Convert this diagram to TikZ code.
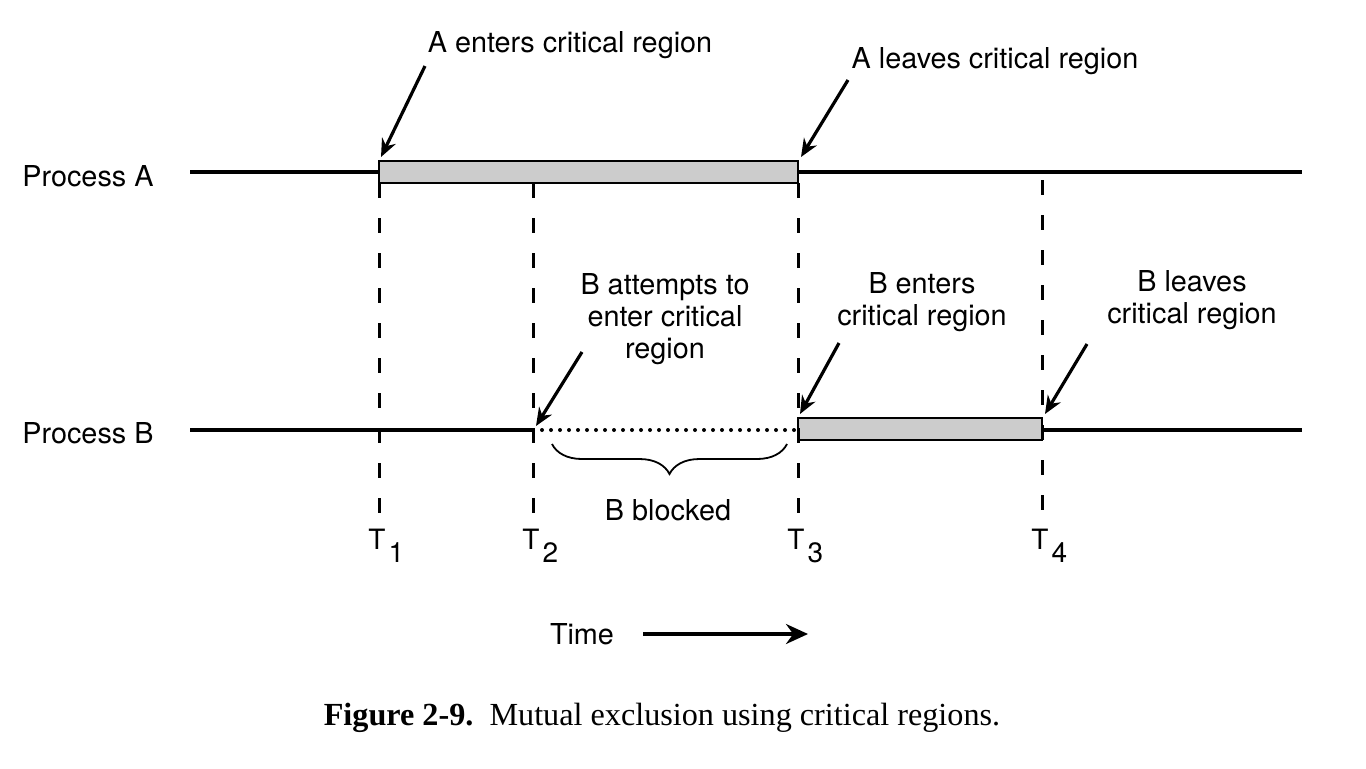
\documentclass[tikz,border=0pt]{standalone}
\usepackage{fontspec}
\setmainfont{TeX Gyre Heros}
\newfontfamily\capfont{Liberation Serif}
\usetikzlibrary{arrows.meta, decorations.pathreplacing}
\tikzset{
	tline/.style   ={line width=1.6pt},
	csbar/.style   ={draw=black, line width=1.3pt, fill=black!20},
	guide/.style   ={line width=1.5pt, dash pattern=on 7.5pt off 10pt},
	waitline/.style={line width=2pt, line cap=round, dash pattern=on 0pt off 4.5pt},
	callout/.style ={-{Stealth[length=9pt, width=7.5pt]}, line width=1.6pt},
	timearrow/.style={-{Stealth[length=11pt, width=10pt]}, line width=1.6pt},
	lbl/.style     ={font=\fontsize{14.4}{16}\selectfont, align=center, inner sep=0pt},
	tick/.style    ={font=\fontsize{14}{16}\selectfont, inner sep=0pt, anchor=base west},
}

\begin{document}
\begin{tikzpicture}[x=0.5pt, y=-0.5pt]
	\useasboundingbox (0,0) rectangle (1366,768);
	% process A
	\node[lbl, anchor=west] (procA) at (22,176) {Process A};
	\coordinate (aStart) at (190,172);
	\coordinate (aEnd) at (1302,172);
	\draw[tline] (aStart) -- (379,172);
	\draw[tline] (798,172) -- (aEnd);
	\draw[csbar] (379,161) rectangle (798,183);
	% process B
	\node[lbl, anchor=west] (procB) at (22,433) {Process B};
	\coordinate (bStart) at (190,430);
	\coordinate (bTry) at (533,430);
	\coordinate (bIn) at (798,430);
	\coordinate (bEnd) at (1302,430);
	\draw[tline] (bStart) -- (bTry);
	\draw[waitline] (bTry) -- (bIn);
	\draw[tline] (1042,430) -- (bEnd);
	\draw[csbar] (798,418) rectangle (1042,440);
	% time marks
	\foreach \x/\y/\n in {379/183/1, 533/183/2, 798/183/3, 1042/180/4}{
		\draw[guide] (\x,\y) -- (\x,520);
		\node[tick] (t\n) at (\x-11,549) {T\kern1.5pt\raisebox{-6.5pt}{\n}};
	}
	% blocked interval
	\draw[decorate, decoration={brace, mirror, amplitude=15pt}, line width=0.9pt] (552,444) -- (787,444);
	\node[lbl] (blocked) at (668,510) {B blocked};
	% callouts
	\node[lbl] (aEnter) at (570,45) {A enters critical region};
	\node[lbl] (aLeave) at (995,61) {A leaves critical region};
	\node[lbl] (bAttempt) at (665,319) {B attempts to\\enter critical\\region};
	\node[lbl] (bEnter) at (922,302) {B enters\\critical region};
	\node[lbl] (bLeave) at (1192,300) {B leaves\\critical region};
	\coordinate (aEnterTail) at (425,66);
	\coordinate (aEnterTip) at (381,157);
	\coordinate (aLeaveTail) at (848,80);
	\coordinate (aLeaveTip) at (801,157);
	\coordinate (bTryTail) at (582,352);
	\coordinate (bTryTip) at (536,426);
	\coordinate (bEnterTail) at (839,343);
	\coordinate (bEnterTip) at (800,414);
	\coordinate (bLeaveTail) at (1087,344);
	\coordinate (bLeaveTip) at (1045,414);
	\draw[callout] (aEnterTail) -- (aEnterTip);
	\draw[callout] (aLeaveTail) -- (aLeaveTip);
	\draw[callout] (bTryTail) -- (bTryTip);
	\draw[callout] (bEnterTail) -- (bEnterTip);
	\draw[callout] (bLeaveTail) -- (bLeaveTip);
	% time axis
	\node[lbl] (time) at (582,634) {Time};
	\coordinate (timeTail) at (643,634);
	\coordinate (timeHead) at (808,634);
	\draw[timearrow] (timeTail) -- (timeHead);
	% caption
	\node[inner sep=0pt] (caption) at (662,718) {\capfont\fontsize{16.1}{18}\selectfont\textbf{Figure 2-9.}\enspace Mutual exclusion using critical regions.};
\end{tikzpicture}
\end{document}
